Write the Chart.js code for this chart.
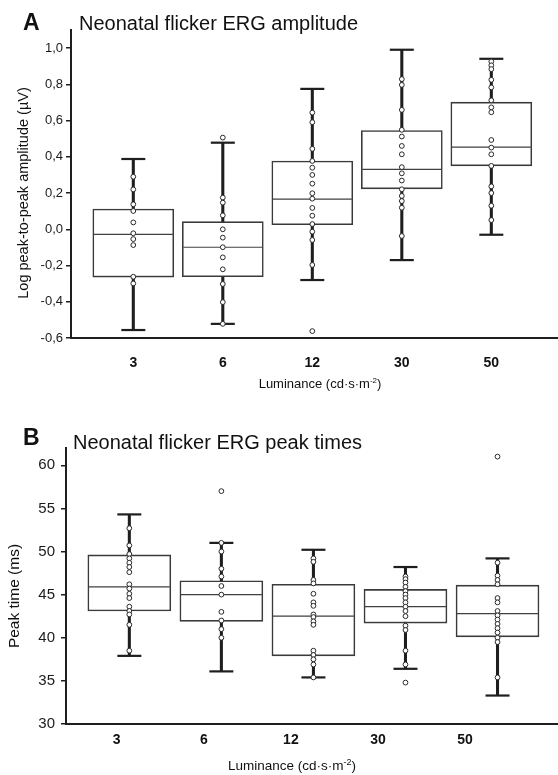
<!DOCTYPE html>
<html>
<head>
<meta charset="utf-8">
<title>Neonatal flicker ERG</title>
<script src="https://cdn.jsdelivr.net/npm/chart.js@4.4.1/dist/chart.umd.min.js"></script>
<style>
  html, body { margin: 0; padding: 0; background: #fff; }
  #wrap { position: relative; width: 558px; height: 775px; }
  .panel { position: absolute; left: 0; }
  #panelA { top: 0; }
  #panelB { top: 392px; }
</style>
</head>
<body>
<div id="wrap">
  <div class="panel" id="panelA"><canvas id="ampChart" width="558" height="392"></canvas></div>
  <div class="panel" id="panelB"><canvas id="timeChart" width="558" height="383"></canvas></div>
</div>
<script>
// --- Data ---
const categories = ['3', '6', '12', '30', '50'];

// Panel A: log peak-to-peak amplitude
const ampWhiskerLow  = [-0.556, -0.522, -0.280, -0.170, -0.030];
const ampQ1          = [-0.264, -0.262,  0.025,  0.223,  0.350];
const ampMedian      = [-0.028, -0.099,  0.166,  0.331,  0.453];
const ampQ3          = [ 0.112,  0.042,  0.377,  0.545,  0.702];
const ampWhiskerHigh = [ 0.388,  0.478,  0.775,  0.991,  0.941];
const ampPoints3  = [0.290, 0.220, 0.138, 0.101, 0.038, -0.022, -0.054, -0.087, -0.262, -0.299];
const ampPoints6  = [0.506, 0.175, 0.147, 0.077, 0.000, -0.046, -0.099, -0.155, -0.221, -0.302, -0.402, -0.522];
const ampPoints12 = [0.644, 0.591, 0.444, 0.377, 0.340, 0.300, 0.252, 0.199, 0.169, 0.118, 0.075, 0.029, -0.013, -0.059, -0.197, -0.562];
const ampPoints30 = [0.829, 0.797, 0.659, 0.549, 0.512, 0.460, 0.414, 0.343, 0.309, 0.269, 0.221, 0.184, 0.156, 0.119, -0.037];
const ampPoints50 = [0.926, 0.905, 0.884, 0.825, 0.783, 0.712, 0.673, 0.646, 0.493, 0.451, 0.414, 0.350, 0.237, 0.200, 0.130, 0.051];
const ampTicks      = [-0.6, -0.4, -0.2, 0, 0.2, 0.4, 0.6, 0.8, 1.0];
const ampTickLabels = ['-0,6', '-0,4', '-0,2', '0,0', '0,2', '0,4', '0,6', '0,8', '1,0'];

// Panel B: peak times (ms)
const timeWhiskerLow  = [37.9, 36.1, 35.4, 36.4, 33.3];
const timeQ1          = [43.1, 41.9, 37.9, 41.7, 40.1];
const timeMedian      = [45.9, 45.0, 42.5, 43.6, 42.8];
const timeQ3          = [49.6, 46.6, 46.2, 45.6, 46.1];
const timeWhiskerHigh = [54.3, 51.0, 50.2, 48.2, 49.2];
const timePoints3  = [52.7, 50.7, 49.7, 49.2, 48.7, 48.2, 47.6, 46.2, 45.7, 45.1, 44.6, 43.6, 43.1, 42.7, 41.5, 38.5];
const timePoints6  = [57.0, 51.0, 50.0, 48.0, 47.1, 46.0, 45.0, 43.0, 42.0, 41.0, 40.0];
const timePoints12 = [49.2, 48.8, 46.7, 46.3, 45.1, 44.1, 43.7, 42.7, 42.4, 41.9, 41.5, 38.5, 38.0, 37.5, 36.9, 35.4];
const timePoints30 = [47.1, 46.8, 46.4, 45.9, 45.4, 45.0, 44.6, 44.1, 43.6, 43.1, 42.5, 41.4, 40.9, 38.5, 36.9, 34.8];
const timePoints50 = [61.0, 48.7, 47.2, 46.7, 46.2, 44.6, 44.1, 43.1, 42.6, 42.1, 41.6, 41.1, 40.6, 40.0, 39.5, 35.4];
const timeTicks      = [30, 35, 40, 45, 50, 55, 60];
const timeTickLabels = ['30', '35', '40', '45', '50', '55', '60'];

Chart.defaults.font.family = '"Liberation Sans", Arial, Helvetica, sans-serif';
Chart.defaults.color = '#1a1a1a';

const INK = '#1e1e1e';

// --- Box plot built from bars + point markers ---
function boxDatasets(lo, q1, med, q3, hi, pointLists, boxWidth) {
    const idx = categories.map((c, i) => i);
    return [
        { // individual points
            type: 'scatter',
            data: pointLists.flatMap((arr, i) => arr.map(v => ({ x: i, y: v }))),
            pointStyle: 'circle', pointRadius: 2.4, pointBorderWidth: 1,
            borderColor: '#2a2a2a', backgroundColor: '#fff', order: 1, clip: false
        },
        { // median line
            type: 'scatter',
            data: idx.map(i => ({ x: i, y: med[i] })),
            pointStyle: 'line', pointRadius: boxWidth / 2 - 1, pointBorderWidth: 1.2,
            borderColor: '#404040', order: 2
        },
        { // whisker caps
            type: 'scatter',
            data: idx.flatMap(i => [{ x: i, y: lo[i] }, { x: i, y: hi[i] }]),
            pointStyle: 'line', pointRadius: 12, pointBorderWidth: 2.2,
            borderColor: INK, order: 2
        },
        { // box
            type: 'bar',
            data: idx.map(i => ({ x: i, y: [q1[i], q3[i]] })),
            barThickness: boxWidth, grouped: false,
            backgroundColor: '#fff', borderColor: '#3a3a3a', borderWidth: 1.6, borderSkipped: false,
            order: 3
        },
        { // whisker stem
            type: 'bar',
            data: idx.map(i => ({ x: i, y: [lo[i], hi[i]] })),
            barThickness: 2.4, grouped: false,
            backgroundColor: INK, borderWidth: 0, order: 4
        }
    ];
}

// --- Titles and axis titles drawn as canvas text ---
const panelText = {
    id: 'panelText',
    afterDraw(chart, args, o) {
        const ctx = chart.ctx;
        const fam = Chart.defaults.font.family;
        ctx.save();
        ctx.fillStyle = '#111';
        ctx.textAlign = 'left';
        ctx.textBaseline = 'alphabetic';
        ctx.font = 'bold 23px ' + fam;
        ctx.fillText(o.letter, o.letterX, o.letterY);
        ctx.font = '20px ' + fam;
        ctx.fillText(o.title, o.titleX, o.titleY);

        // y axis title
        ctx.save();
        ctx.translate(o.yTitleX, o.yTitleY);
        ctx.rotate(-Math.PI / 2);
        ctx.textAlign = 'center';
        ctx.textBaseline = 'middle';
        ctx.font = o.yTitleSize + 'px ' + fam;
        ctx.fillText(o.yTitle, 0, 0);
        ctx.restore();

        // x axis title with superscript
        const main = 'Luminance (cd\u00b7s\u00b7m', sup = '-2', close = ')';
        const big = o.xTitleSize + 'px ' + fam, small = Math.round(o.xTitleSize * 0.65) + 'px ' + fam;
        ctx.font = big;
        const w1 = ctx.measureText(main).width, w3 = ctx.measureText(close).width;
        ctx.font = small;
        const w2 = ctx.measureText(sup).width;
        let x = o.xTitleX - (w1 + w2 + w3) / 2;
        ctx.textBaseline = 'alphabetic';
        ctx.font = big; ctx.fillText(main, x, o.xTitleY); x += w1;
        ctx.font = small; ctx.fillText(sup, x, o.xTitleY - o.xTitleSize * 0.4); x += w2;
        ctx.font = big; ctx.fillText(close, x, o.xTitleY);
        ctx.restore();
    }
};

function yAxis(min, max, ticks, labels, width, size, pad) {
    return {
        type: 'linear', position: 'left', min: min, max: max,
        afterBuildTicks: s => { s.ticks = ticks.map(v => ({ value: v })); },
        afterFit: s => { s.width = width; s.paddingTop = 0; s.paddingBottom = 0; },
        ticks: { callback: (v, i) => labels[i], font: { size: size }, color: '#1a1a1a', padding: pad },
        grid: { drawOnChartArea: false, drawTicks: true, tickLength: 5, color: INK, lineWidth: 1.5 },
        border: { display: true, color: INK, width: 2 }
    };
}

function xAxis(min, max, height, pad) {
    return {
        type: 'linear', position: 'bottom', offset: false, min: min, max: max,
        afterBuildTicks: s => { s.ticks = categories.map((c, i) => ({ value: i })); },
        afterFit: s => { s.height = height; s.paddingLeft = 0; s.paddingRight = 0; },
        ticks: { callback: (v) => categories[v], font: { size: 14, weight: 'bold' }, color: '#111', padding: pad },
        grid: { display: false, drawTicks: false },
        border: { display: true, color: INK, width: 2 }
    };
}

// --- Panel A ---
new Chart(document.getElementById('ampChart'), {
    type: 'bar',
    data: { datasets: boxDatasets(ampWhiskerLow, ampQ1, ampMedian, ampQ3, ampWhiskerHigh,
        [ampPoints3, ampPoints6, ampPoints12, ampPoints30, ampPoints50], 81) },
    options: {
        responsive: false, animation: false, events: [],
        layout: { autoPadding: false, padding: { top: 30, left: 0, right: 0, bottom: 0 } },
        plugins: {
            legend: { display: false }, tooltip: { enabled: false },
            panelText: {
                letter: 'A', letterX: 23, letterY: 30,
                title: 'Neonatal flicker ERG amplitude', titleX: 79, titleY: 30,
                yTitle: 'Log peak-to-peak amplitude (\u00b5V)', yTitleX: 24, yTitleY: 193, yTitleSize: 14.5,
                xTitleX: 320, xTitleY: 388, xTitleSize: 13
            }
        },
        scales: {
            x: xAxis(-0.696, 4.745, 54, 17),
            y: yAxis(-0.6, 1.1, ampTicks, ampTickLabels, 71, 13, 3)
        }
    },
    plugins: [panelText]
});

// --- Panel B ---
new Chart(document.getElementById('timeChart'), {
    type: 'bar',
    data: { datasets: boxDatasets(timeWhiskerLow, timeQ1, timeMedian, timeQ3, timeWhiskerHigh,
        [timePoints3, timePoints6, timePoints12, timePoints30, timePoints50], 83) },
    options: {
        responsive: false, animation: false, events: [],
        layout: { autoPadding: false, padding: { top: 56, left: 0, right: 0, bottom: 0 } },
        plugins: {
            legend: { display: false }, tooltip: { enabled: false },
            panelText: {
                letter: 'B', letterX: 23, letterY: 53,
                title: 'Neonatal flicker ERG peak times', titleX: 73, titleY: 57,
                yTitle: 'Peak time (ms)', yTitleX: 15, yTitleY: 204, yTitleSize: 15.5,
                xTitleX: 292, xTitleY: 378, xTitleSize: 13.5
            }
        },
        scales: {
            x: { type: 'linear', display: false, offset: false, min: -0.688, max: 4.657 },
            xl: xAxis(-0.582, 5.067, 51, 8),
            y: yAxis(30, 62, timeTicks, timeTickLabels, 66, 15, 6)
        }
    },
    plugins: [panelText]
});
</script>
</body>
</html>
